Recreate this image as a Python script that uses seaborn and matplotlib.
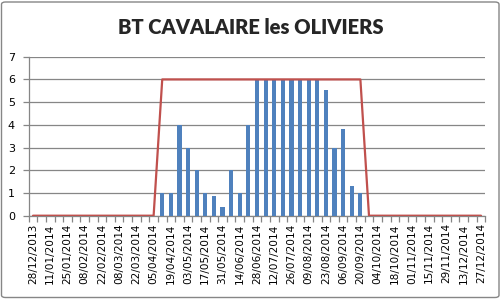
import numpy as np
import pandas as pd
import matplotlib
matplotlib.use("Agg")
import matplotlib.pyplot as plt
from matplotlib.patches import FancyBboxPatch
import seaborn as sns
import datetime as dt

# ---- data ----
title = "BT CAVALAIRE les OLIVIERS"
start = dt.date(2013, 12, 28)
weeks = [start + dt.timedelta(weeks=i) for i in range(53)]
week_labels = [d.strftime("%d/%m/%Y") for d in weeks]

first_bar_week = 15  # 12/04/2014
bar_values = [1, 1, 4, 3, 2, 1, 0.85, 0.4, 2, 1, 4, 6, 6, 6, 6, 6, 6, 6, 6,
              5.55, 3, 3.8, 1.3, 1]
values = [0.0] * 53
for i, v in enumerate(bar_values):
    values[first_bar_week + i] = v

capacity = [0] * 15 + [6] * 24 + [0] * 14

df = pd.DataFrame({"week": week_labels, "value": values, "cap": capacity,
                   "pos": np.arange(53)})

# ---- figure ----
sns.set_theme(style="white")
plt.rcParams['font.family'] = ['DejaVu Sans']
fig = plt.figure(figsize=(5.01, 2.99), dpi=100)
ax = fig.add_axes([28.7 / 501, 1 - 215.7 / 299, (485.3 - 28.7) / 501, (215.7 - 56.7) / 299])

sns.barplot(data=df, x="week", y="value", order=week_labels, color="#4F81BD",
            width=0.48, saturation=1, ax=ax, zorder=3, linewidth=0,
            edgecolor="none")
sns.lineplot(data=df, x="pos", y="cap", color="#C0504D", linewidth=1.6, ax=ax,
             zorder=4)

ax.set_xlim(-0.5, 52.5)
ax.set_ylim(0, 7)
ax.set_yticks(range(0, 8))
ax.set_yticklabels([str(i) for i in range(8)], fontsize=8, color="black")
ax.yaxis.grid(True, color="#868686", linewidth=0.9, zorder=0)
ax.set_axisbelow(True)

# labels at every second category centre, tick marks at category boundaries
ax.set_xticks(np.arange(0, 53, 2))
ax.set_xticklabels(week_labels[::2], rotation=90, fontsize=7.6, color="black")
ax.set_xticks(np.arange(-0.5, 53, 1), minor=True)
ax.tick_params(axis="x", which="major", length=0, pad=5.5)
ax.tick_params(axis="x", which="minor", length=4, width=0.9, color="#868686",
               bottom=True)
ax.tick_params(axis="y", which="major", length=4, width=0.9, color="#868686",
               left=True, pad=6)
ax.set_xlabel("")
ax.set_ylabel("")

for s in ["top", "right"]:
    ax.spines[s].set_visible(False)
for s in ["left", "bottom"]:
    ax.spines[s].set_color("#868686")
    ax.spines[s].set_linewidth(0.9)

fig.text(0.5, 1 - 27 / 299, title, ha="center", va="center", fontsize=14.5,
         fontweight="heavy", family=["Lato", "DejaVu Sans"])

border = FancyBboxPatch((1.5 / 501, 1.5 / 299), 497.5 / 501, 295.5 / 299,
                        boxstyle="round,pad=0,rounding_size=0.008",
                        transform=fig.transFigure, fill=False,
                        edgecolor="#868686", linewidth=1.0)
fig.patches.append(border)

fig.savefig("out.png", dpi=100)
